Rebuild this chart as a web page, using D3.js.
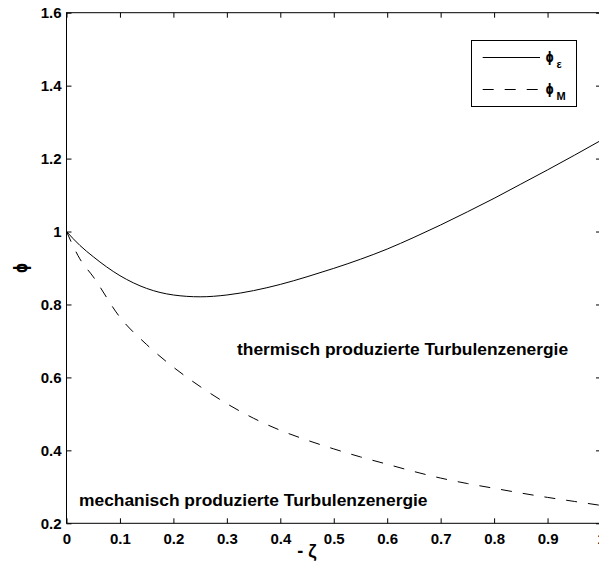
<!DOCTYPE html>
<html>
<head>
<meta charset="utf-8">
<script src="https://cdn.jsdelivr.net/npm/d3@7"></script>
<style>
  html, body { margin: 0; padding: 0; background: #fff; }
  svg { display: block; font-family: 'Liberation Sans', Arial, sans-serif; font-weight: bold; }
</style>
</head>
<body>
<svg id="chart" width="599" height="575"></svg>
<script>
// values
const zeta = [0, 0.025, 0.05, 0.1, 0.15, 0.2, 0.25, 0.3, 0.35, 0.4, 0.45, 0.5,
  0.55, 0.6, 0.65, 0.7, 0.75, 0.8, 0.85, 0.9, 0.95, 1.0];
const phiEps = [1.0, 0.962, 0.931, 0.879, 0.844, 0.826, 0.821, 0.826, 0.838, 0.855, 0.876, 0.899,
  0.924, 0.952, 0.984, 1.018, 1.054, 1.091, 1.13, 1.169, 1.209, 1.25];
const phiM = [1.0, 0.925, 0.876, 0.765, 0.69, 0.628, 0.575, 0.528, 0.488, 0.455, 0.428, 0.404,
  0.382, 0.362, 0.342, 0.324, 0.309, 0.296, 0.283, 0.271, 0.26, 0.249];
const xTicks = [0, 0.1, 0.2, 0.3, 0.4, 0.5, 0.6, 0.7, 0.8, 0.9, 1];
const yTicks = [0.2, 0.4, 0.6, 0.8, 1, 1.2, 1.4, 1.6];

const margin = { left: 66.5, right: 601, top: 12.7, bottom: 523.3 };
const svg = d3.select('#chart');

const x = d3.scaleLinear().domain([0, 1]).range([margin.left, margin.right]);
const y = d3.scaleLinear().domain([0.2, 1.6]).range([margin.bottom, margin.top]);

const fmt = (d) => String(d);

// box
svg.append('rect')
  .attr('x', margin.left).attr('y', margin.top)
  .attr('width', margin.right - margin.left)
  .attr('height', margin.bottom - margin.top)
  .attr('fill', 'none').attr('stroke', '#000').attr('stroke-width', 1);

// axes, ticks pointing inward
const bottomAxis = d3.axisBottom(x).tickValues(xTicks).tickSize(-5).tickPadding(10).tickFormat(fmt);
const topAxis = d3.axisTop(x).tickValues(xTicks).tickSize(-5).tickFormat('');
const leftAxis = d3.axisLeft(y).tickValues(yTicks).tickSize(-5).tickPadding(5).tickFormat(fmt);
const rightAxis = d3.axisRight(y).tickValues(yTicks).tickSize(-5).tickFormat('');

function style(g) {
  g.select('.domain').remove();
  g.selectAll('.tick line').attr('stroke', '#000');
  g.selectAll('text').attr('fill', '#000').style('font-size', '15px').style('font-weight', 'bold')
    .style('font-family', "'Liberation Sans', Arial, sans-serif");
}

svg.append('g').attr('transform', `translate(0,${margin.bottom})`).call(bottomAxis).call(style);
svg.append('g').attr('transform', `translate(0,${margin.top})`).call(topAxis).call(style);
svg.append('g').attr('transform', `translate(${margin.left},0)`).call(leftAxis).call(style);
svg.append('g').attr('transform', `translate(${margin.right},0)`).call(rightAxis).call(style);

// curves
const line = d3.line()
  .x((d, i) => x(zeta[i]))
  .y((d) => y(d))
  .curve(d3.curveMonotoneX);

svg.append('path')
  .datum(phiEps)
  .attr('d', line)
  .attr('fill', 'none').attr('stroke', '#000').attr('stroke-width', 1);

svg.append('path')
  .datum(phiM)
  .attr('d', line)
  .attr('fill', 'none').attr('stroke', '#000').attr('stroke-width', 1)
  .attr('stroke-dasharray', '11,11');

// annotations
svg.append('text')
  .attr('x', 237).attr('y', 355)
  .style('font-size', '17.4px')
  .text('thermisch produzierte Turbulenzenergie');

svg.append('text')
  .attr('x', 79).attr('y', 505.5)
  .style('font-size', '17.4px')
  .text('mechanisch produzierte Turbulenzenergie');

// axis labels (phi drawn with the closed, stroked form as in the original)
const phiFont = "'DejaVu Sans', sans-serif";
svg.append('text')
  .attr('text-anchor', 'middle')
  .attr('transform', `translate(27,${(margin.top + margin.bottom) / 2}) rotate(-90) scale(0.75,1)`)
  .style('font-family', phiFont)
  .style('font-size', '17px')
  .text('ϕ');

svg.append('text')
  .attr('x', 307).attr('y', 557)
  .attr('text-anchor', 'middle')
  .style('font-size', '18px')
  .text('- ζ');

// legend
const legend = svg.append('g');
legend.append('rect')
  .attr('x', 471.5).attr('y', 40.5).attr('width', 105).attr('height', 66)
  .attr('fill', '#fff').attr('stroke', '#000').attr('stroke-width', 1);

const entries = [
  { name: 'ϕ', sub: 'ε', dash: null, y: 57.5 },
  { name: 'ϕ', sub: 'M', dash: '11,11', y: 89.5 },
];
entries.forEach((e) => {
  legend.append('line')
    .attr('x1', 482.7).attr('x2', 540).attr('y1', e.y).attr('y2', e.y)
    .attr('stroke', '#000').attr('stroke-width', 1)
    .attr('stroke-dasharray', e.dash);
  legend.append('text')
    .attr('transform', `translate(545.5,${e.y + 4}) scale(0.75,1)`)
    .style('font-family', phiFont)
    .style('font-size', '14px')
    .text(e.name);
  legend.append('text')
    .attr('x', 556.5).attr('y', e.y + 10)
    .style('font-size', '11px')
    .text(e.sub);
});
</script>
</body>
</html>
